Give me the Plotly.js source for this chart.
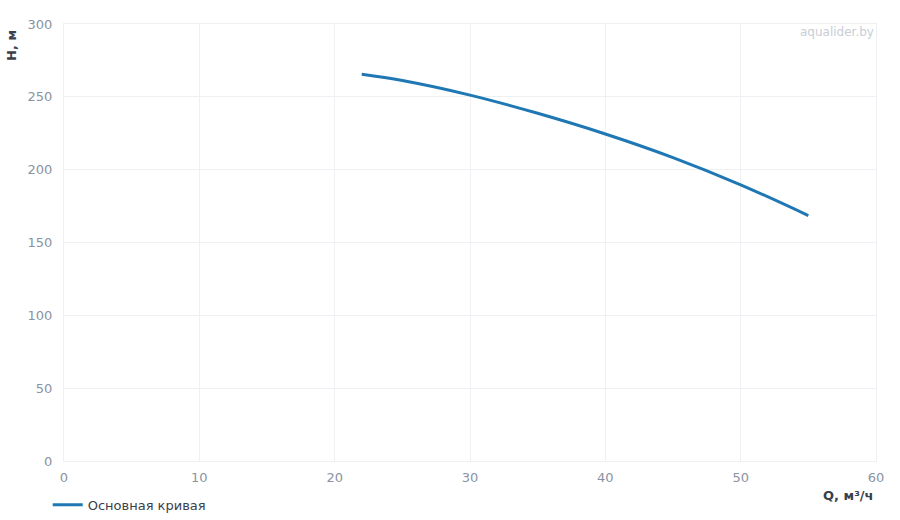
<!DOCTYPE html>
<html>
<head>
<meta charset="utf-8">
<script src="https://cdn.plot.ly/plotly-3.0.1.min.js"></script>
<style>
  html, body { margin: 0; padding: 0; background: #fff; }
  #chart { width: 900px; height: 520px; }
</style>
</head>
<body>
<div id="chart"></div>
<script>
// Напорная характеристика насоса
const flowQ = [22, 25, 30, 35, 40, 45, 50, 55];
const headH = [265.5, 261.2, 251.2, 238.7, 224.5, 208.3, 189.6, 168.5];
const seriesName = 'Основная кривая';

const tickColor = '#8a93a3';
const titleColor = '#3a404c';
const gridColor = '#eef0f4';

const data = [{
    type: 'scatter',
    mode: 'lines',
    name: seriesName,
    x: flowQ,
    y: headH,
    line: { color: '#1f77b4', width: 3, shape: 'spline', smoothing: 1 },
    hoverinfo: 'skip'
}];

const layout = {
    width: 900,
    height: 520,
    margin: { l: 64, r: 24, t: 24, b: 59 },
    paper_bgcolor: '#ffffff',
    plot_bgcolor: '#ffffff',
    font: { family: 'DejaVu Sans, sans-serif', size: 13, color: titleColor },
    showlegend: true,
    legend: {
        orientation: 'h',
        xref: 'container',
        yref: 'container',
        x: 0.053,
        xanchor: 'left',
        y: 0.029,
        yanchor: 'middle',
        font: { size: 13, color: titleColor }
    },
    xaxis: {
        range: [0, 60],
        dtick: 10,
        showgrid: true,
        gridcolor: gridColor,
        zeroline: false,
        showline: true,
        linecolor: gridColor,
        mirror: true,
        ticks: '',
        ticklabelstandoff: 4,
        tickfont: { size: 13, color: tickColor },
        fixedrange: true
    },
    yaxis: {
        range: [0, 300],
        dtick: 50,
        showgrid: true,
        gridcolor: gridColor,
        zeroline: false,
        showline: true,
        linecolor: gridColor,
        mirror: true,
        ticks: '',
        ticklabelstandoff: 8,
        tickfont: { size: 13, color: tickColor },
        fixedrange: true
    },
    annotations: [
        {
            text: '<b>H, м</b>',
            xref: 'paper', yref: 'paper',
            x: -0.064, y: 0.95,
            xanchor: 'center', yanchor: 'middle',
            textangle: -90,
            showarrow: false,
            font: { size: 13, color: titleColor }
        },
        {
            text: '<b>Q, м³/ч</b>',
            xref: 'paper', yref: 'paper',
            x: 1, y: -0.078,
            xanchor: 'right', yanchor: 'middle',
            showarrow: false,
            font: { size: 13, color: titleColor }
        },
        {
            text: 'aqualider.by',
            xref: 'paper', yref: 'paper',
            x: 1, y: 0.982,
            xanchor: 'right', yanchor: 'middle',
            showarrow: false,
            font: { size: 12, color: '#c9cdd5' }
        }
    ]
};

Plotly.newPlot('chart', data, layout, { displayModeBar: false, staticPlot: true });
</script>
</body>
</html>
